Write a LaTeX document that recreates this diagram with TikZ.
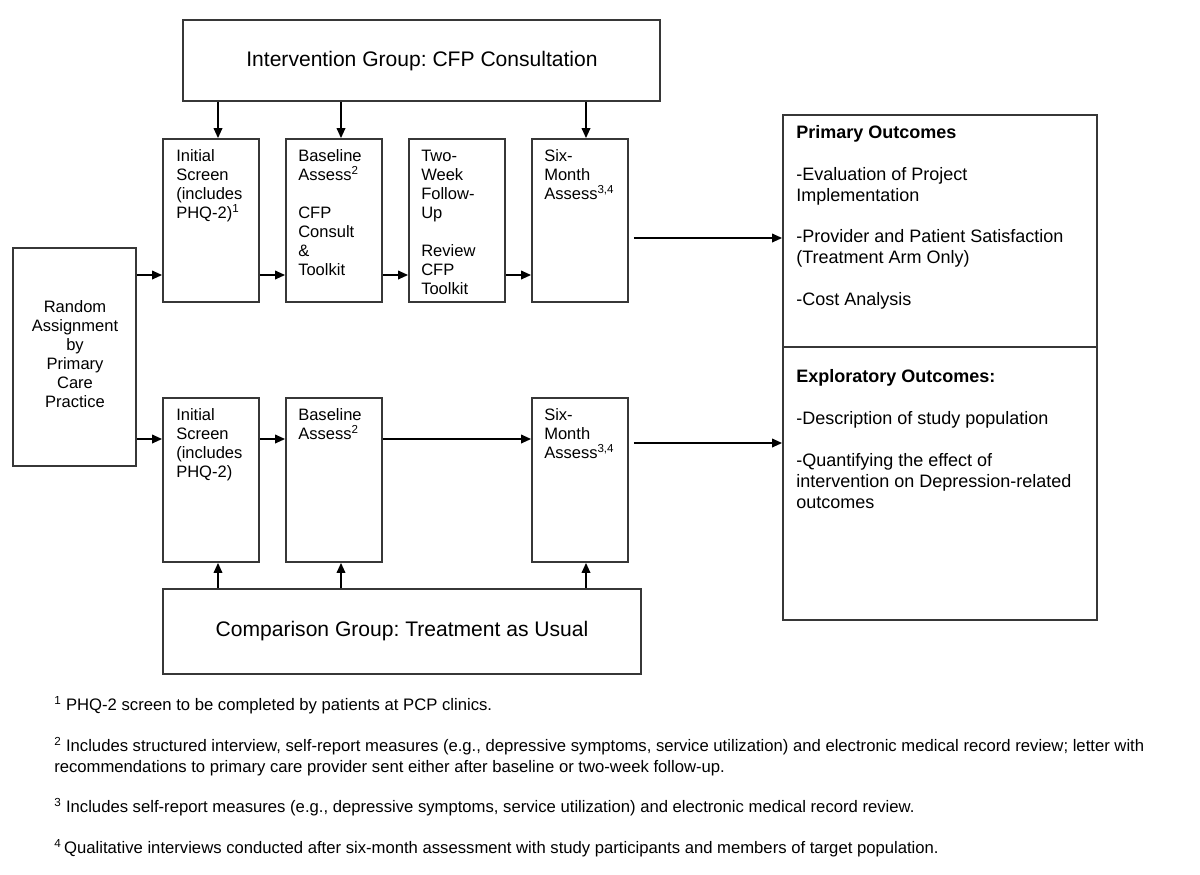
\documentclass[tikz,border=0pt]{standalone}
\usepackage{fontspec}
\setmainfont{Liberation Sans}
\usetikzlibrary{arrows.meta,fit}
\frenchspacing
\tikzset{
  boxline/.style={draw={rgb,255:red,55;green,55;blue,55}, line width=1.4pt},
  box/.style={boxline, inner sep=0pt, fit={#1}},
  arr/.style={-{Triangle[length=7.5pt,width=6.5pt]}, line width=1.2pt, black},
  boxtext/.style={font=\fontsize{12.4pt}{14.25pt}\selectfont, inner sep=0pt, align=left, anchor=base west},
  outtext/.style={font=\fontsize{13.5pt}{15.65pt}\selectfont, inner sep=0pt, align=left, anchor=base west},
  bigtext/.style={font=\fontsize{15.8pt}{18pt}\selectfont, inner sep=0pt},
  fntext/.style={font=\fontsize{12.5pt}{15.75pt}\selectfont, inner sep=0pt, align=left, anchor=base west},
}
\begin{document}
\begin{tikzpicture}[x=0.75pt,y=-0.75pt]
\useasboundingbox (0,0) rectangle (1200,875);
\fill[white] (0,0) rectangle (1200,875);

% boxes
\node[box={(183,20) (660,101)}] (ig) {};
\node[box={(163,589) (641,674)}] (cg) {};
\node[box={(13,248) (136,466)}] (rand) {};
\node[box={(163,139) (259,302)}] (is1) {};
\node[box={(286,139) (382,302)}] (bl1) {};
\node[box={(409,139) (505,302)}] (tw1) {};
\node[box={(532,139) (628,302)}] (sm1) {};
\node[box={(163,398) (259,562)}] (is2) {};
\node[box={(286,398) (382,562)}] (bl2) {};
\node[box={(532,398) (628,562)}] (sm2) {};
\node[box={(783,115) (1097,620)}] (out) {};
\coordinate (yDiv) at (0,347);
\draw[boxline] (out.west |- yDiv) -- (out.east |- yDiv);

% texts (base anchor = baseline of the last line)
\node[bigtext] (igt) at (422,61) {Intervention Group: CFP Consultation};
\node[bigtext] (cgt) at (cg.center) {Comparison Group: Treatment as Usual};
\node[font=\fontsize{12.4pt}{14.25pt}\selectfont, inner sep=0pt, align=center] (randt) at (75,354)
  {Random\\Assignment\\by\\Primary\\Care\\Practice};
\node[boxtext] (is1t) at (176,218) {Initial\\Screen\\(includes\\PHQ-2)\textsuperscript{1}};
\node[boxtext] (bl1t) at (298,275) {Baseline\\Assess\textsuperscript{2}\\\mbox{}\\CFP\\Consult\\\&\\Toolkit};
\node[boxtext] (tw1t) at (421,294) {Two-\\Week\\Follow-\\Up\\\mbox{}\\Review\\CFP\\Toolkit};
\node[boxtext] (sm1t) at (544,199) {Six-\\Month\\Assess\textsuperscript{3,4}};
\node[boxtext] (is2t) at (176,477) {Initial\\Screen\\(includes\\PHQ-2)};
\node[boxtext] (bl2t) at (298,439) {Baseline\\Assess\textsuperscript{2}};
\node[boxtext] (sm2t) at (544,458) {Six-\\Month\\Assess\textsuperscript{3,4}};
\node[outtext] (pot) at (796,305.5) {\textbf{Primary Outcomes}\\\mbox{}\\-Evaluation of Project\\Implementation\\\mbox{}\\-Provider and Patient Satisfaction\\(Treatment Arm Only)\\\mbox{}\\-Cost Analysis};
\node[outtext] (eot) at (796,508) {\textbf{Exploratory Outcomes:}\\\mbox{}\\-Description of study population\\\mbox{}\\-Quantifying the effect of\\intervention on Depression-related\\outcomes};

% footnotes
\node[fntext] (fn1) at (54,710) {\textsuperscript{1} PHQ-2 screen to be completed by patients at PCP clinics.};
\node[fntext] (fn2) at (54,772) {\textsuperscript{2} Includes structured interview, self-report measures (e.g., depressive symptoms, service utilization) and electronic medical record review; letter with\\recommendations to primary care provider sent either after baseline or two-week follow-up.};
\node[fntext] (fn3) at (54,812) {\textsuperscript{3} Includes self-report measures (e.g., depressive symptoms, service utilization) and electronic medical record review.};
\node[fntext] (fn4) at (54,853) {\textsuperscript{4}\,Qualitative interviews conducted after six-month assessment with study participants and members of target population.};

% connectors
\coordinate (yT) at (0,275);
\coordinate (yB) at (0,439);
\coordinate (yO1) at (0,238);
\coordinate (yO2) at (0,443);
\coordinate (a1) at (218,0);
\coordinate (a2) at (341,0);
\coordinate (a3) at (586,0);

\draw[arr] (rand.east |- yT) -- (is1.west |- yT);
\draw[arr] (is1.east |- yT) -- (bl1.west |- yT);
\draw[arr] (bl1.east |- yT) -- (tw1.west |- yT);
\draw[arr] (tw1.east |- yT) -- (sm1.west |- yT);
\draw[arr, shorten <=3.75pt] (sm1.east |- yO1) -- (out.west |- yO1);

\draw[arr] (rand.east |- yB) -- (is2.west |- yB);
\draw[arr] (is2.east |- yB) -- (bl2.west |- yB);
\draw[arr] (bl2.east |- yB) -- (sm2.west |- yB);
\draw[arr, shorten <=3.75pt] (sm2.east |- yO2) -- (out.west |- yO2);

\draw[arr] (ig.south -| a1) -- (is1.north -| a1);
\draw[arr] (ig.south -| a2) -- (bl1.north -| a2);
\draw[arr] (ig.south -| a3) -- (sm1.north -| a3);
\draw[arr] (cg.north -| a1) -- (is2.south -| a1);
\draw[arr] (cg.north -| a2) -- (bl2.south -| a2);
\draw[arr] (cg.north -| a3) -- (sm2.south -| a3);
\end{tikzpicture}
\end{document}
